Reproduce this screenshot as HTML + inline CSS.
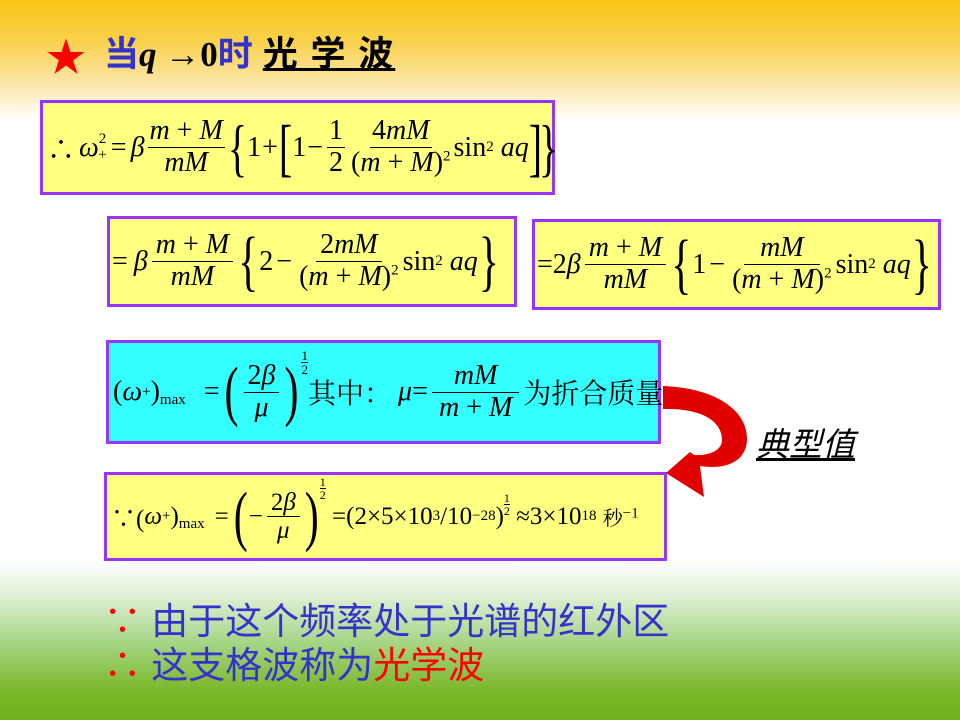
<!DOCTYPE html>
<html><head><meta charset="utf-8"><style>
body{margin:0;width:960px;height:720px;overflow:hidden;position:relative;
background:linear-gradient(to bottom,#f7c515 0px,#f9d04a 40px,#fbe4a0 80px,#fff 120px,#fff 560px,#e8f2df 590px,#a9d68a 640px,#7bb82a 690px,#70b020 720px);
font-family:"Liberation Serif","Noto Serif CJK SC",serif;}
.box{position:absolute;border:3px solid #9933ff;box-sizing:border-box;display:flex;align-items:center;font-size:28px;color:#000;white-space:nowrap;}
.y{background:#ffff80}.c{background:#33ffff}
.fr{display:inline-flex;flex-direction:column;align-items:center;vertical-align:middle;margin:0 4px;line-height:1.1}
.fr>span:first-child{border-bottom:1.5px solid #000;padding:0 4px}
i{font-style:italic}
.big{font-size:42px;font-weight:100;transform:scaleY(1.6);display:inline-block;line-height:1;margin:0 1px}
sup{font-size:15px}
sub{font-size:15px}
.sp{margin:0 5px}
.b1 .fr{margin:0 3px}
.b1 .fr>span:first-child{padding:0 2px}
.b1 .big{font-size:40px;margin:0}
</style></head><body>
<div style="position:absolute;left:46px;top:26px;font-size:40px;color:#f00">★</div>
<div style="position:absolute;left:104px;top:26px;font-size:35px;font-weight:bold;font-family:'Liberation Serif','Noto Sans CJK SC',serif;white-space:nowrap"><span style="color:#3333cc">当</span><i>q</i> →0<span style="color:#3333cc">时</span><span style="text-decoration:underline;margin-left:10px;letter-spacing:2px">光 学 波</span></div>

<div class="box y b1" style="left:40px;top:100px;width:515px;height:95px;padding-left:4px;font-size:28px">
∴<span style="margin-left:4px"><i>ω</i></span><sup style="position:relative;top:-8px">2</sup><sub style="margin-left:-8px;position:relative;top:8px">+</sub><span style="margin:0 4px">=</span><i>β</i><span class="fr"><span><i>m</i> + <i>M</i></span><span><i>mM</i></span></span><span class="big">{</span>1<span style="margin:0 1px">+</span><span class="big">[</span>1<span style="margin:0 1px">−</span><span class="fr"><span>1</span><span>2</span></span><span class="fr"><span>4<i>mM</i></span><span>(<i>m</i> + <i>M</i>)<sup>2</sup></span></span>sin<sup>2</sup>&nbsp;<i>aq</i><span class="big">]</span><span class="big" style="margin-left:-3px">}</span>
</div>

<div class="box y" style="left:107px;top:216px;width:410px;height:91px;padding-left:2px">
=<span style="margin-left:6px"><i>β</i></span><span class="fr"><span><i>m</i> + <i>M</i></span><span><i>mM</i></span></span><span class="big">{</span>2<span style="margin:0 3px">−</span><span class="fr"><span>2<i>mM</i></span><span>(<i>m</i> + <i>M</i>)<sup>2</sup></span></span>sin<sup>2</sup>&nbsp;<i>aq</i><span class="big">}</span>
</div>

<div class="box y" style="left:532px;top:219px;width:409px;height:91px;padding-left:2px">
=2<i>β</i><span class="fr"><span><i>m</i> + <i>M</i></span><span><i>mM</i></span></span><span class="big">{</span>1<span style="margin:0 3px">−</span><span class="fr"><span style="padding:0 16px"><i>mM</i></span><span>(<i>m</i> + <i>M</i>)<sup>2</sup></span></span>sin<sup>2</sup>&nbsp;<i>aq</i><span class="big">}</span>
</div>

<div class="box c" style="left:106px;top:340px;width:555px;height:104px;padding-left:4px">
(<i>ω</i><sub>+</sub>)<sub style="position:relative;top:8px">max</sub><span style="margin:0 4px 0 18px">=</span><span class="big">(</span><span class="fr"><span>2<i>β</i></span><span><i>μ</i></span></span><span class="big">)</span><span style="display:inline-flex;flex-direction:column;font-size:13px;line-height:1;position:relative;top:-30px;margin-left:2px"><span style="border-bottom:1px solid #000">1</span><span>2</span></span>其中：<span style="margin-left:6px"><i>μ</i></span>=<span class="fr"><span style="padding:0 22px"><i>mM</i></span><span><i>m</i> + <i>M</i></span></span>为折合质量
</div>

<div class="box y" style="left:104px;top:472px;width:563px;height:89px;padding-left:4px;font-size:25px">
∵(<i>ω</i><sub>+</sub>)<sub style="position:relative;top:8px">max</sub><span style="margin:0 4px 0 10px">=</span><span class="big">(</span>−<span class="fr"><span>2<i>β</i></span><span><i>μ</i></span></span><span class="big">)</span><span style="display:inline-flex;flex-direction:column;font-size:12px;line-height:1;position:relative;top:-28px"><span style="border-bottom:1px solid #000">1</span><span>2</span></span>&nbsp;=(2×5×10<sup>3</sup> /10<sup>−28</sup>)<span style="display:inline-flex;flex-direction:column;font-size:12px;line-height:1;position:relative;top:-12px"><span style="border-bottom:1px solid #000">1</span><span>2</span></span>&nbsp;≈3×10<sup>18</sup>&nbsp;<span style="font-size:20px">秒<sup>−1</sup></span>
</div>

<svg style="position:absolute;left:0;top:0" width="960" height="720">
<path d="M663 386 C715 388 748 410 747 440 C746 462 725 470 700 466 L704 497 L666 473 L690 452 L694 455 C710 456 722 450 722 440 C722 420 700 408 663 409 Z" fill="#e00000"/>
</svg>
<div style="position:absolute;left:756px;top:418px;font-size:33px;font-style:italic;text-decoration:underline;font-family:'Liberation Sans','Noto Sans CJK SC',sans-serif">典型值</div>

<div style="position:absolute;left:104px;top:600px;font-size:37px;line-height:44px;color:#3333cc;font-family:'Liberation Sans','Noto Sans CJK SC',sans-serif;white-space:nowrap">
<div><span style="color:#f00">∵</span> 由于这个频率处于光谱的红外区</div>
<div><span style="color:#f00">∴</span> 这支格波称为<span style="color:#f00">光学波</span></div>
</div>
</body></html>
